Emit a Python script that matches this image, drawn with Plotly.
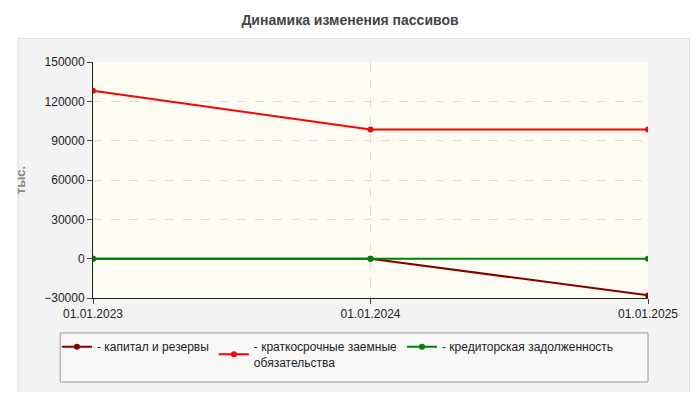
import plotly.graph_objects as go

dates = ["01.01.2023", "01.01.2024", "01.01.2025"]
capital = [0, 0, -28000]
short_loans = [128000, 98500, 98500]
creditor = [0, 0, 0]
names = ["капитал и резервы", "краткосрочные заемные<br>обязательства", "кредиторская задолженность"]
colors = ["#800000", "#ff0000", "#008000"]

x = list(range(len(dates)))
fig = go.Figure()
for ys, n, c in zip([capital, short_loans, creditor], names, colors):
    fig.add_trace(go.Scatter(x=x, y=ys, mode="lines+markers", name="- " + n,
                             line=dict(color=c, width=2), marker=dict(size=6, color=c)))

fig.update_layout(
    width=684, height=384,
    margin=dict(l=78, r=44, t=54, b=94),
    paper_bgcolor="white", plot_bgcolor="#fdfdf3",
    title=dict(text="<b>Динамика изменения пассивов</b>", x=0.5, y=0.969, xanchor="center",
               yanchor="middle",
               font=dict(family="Liberation Sans, Arial", size=14, color="#444")),
    font=dict(family="Liberation Sans, Arial", size=12, color="#222"),
    showlegend=True,
    legend=dict(orientation="h", x=-0.065, y=-0.145, xanchor="left", yanchor="top",
                bgcolor="rgba(0,0,0,0)", font=dict(size=12, color="#222")),
    xaxis=dict(tickvals=x, ticktext=dates, range=[0, 2], showgrid=True, gridcolor="#dddddd",
               griddash="dash", showline=True, linecolor="#222", ticks="outside",
               zeroline=False, tickfont=dict(size=12)),
    yaxis=dict(range=[-30000, 150000], dtick=30000, showgrid=True, gridcolor="#dddddd",
               griddash="dash", showline=True, linecolor="#222", ticks="outside",
               zeroline=False, tickformat="d",
               title=dict(text="<b>тыс.</b>", font=dict(size=13, color="#888"))),
    shapes=[
        dict(type="rect", xref="paper", yref="paper", x0=-0.135, x1=1.075, y0=-0.41, y1=1.1,
             fillcolor="#f3f3f3", line=dict(color="#dddddd", width=1), layer="below"),
        dict(type="rect", xref="paper", yref="paper", x0=0, x1=1, y0=0, y1=1,
             fillcolor="#fdfdf3", line=dict(width=0), layer="below"),
        dict(type="rect", xref="paper", yref="paper", x0=-0.059, x1=1.0, y0=-0.148, y1=-0.356,
             fillcolor="#f8f8f8", line=dict(color="#999999", width=1), layer="below"),
    ],
)
fig.write_html("out.html")
